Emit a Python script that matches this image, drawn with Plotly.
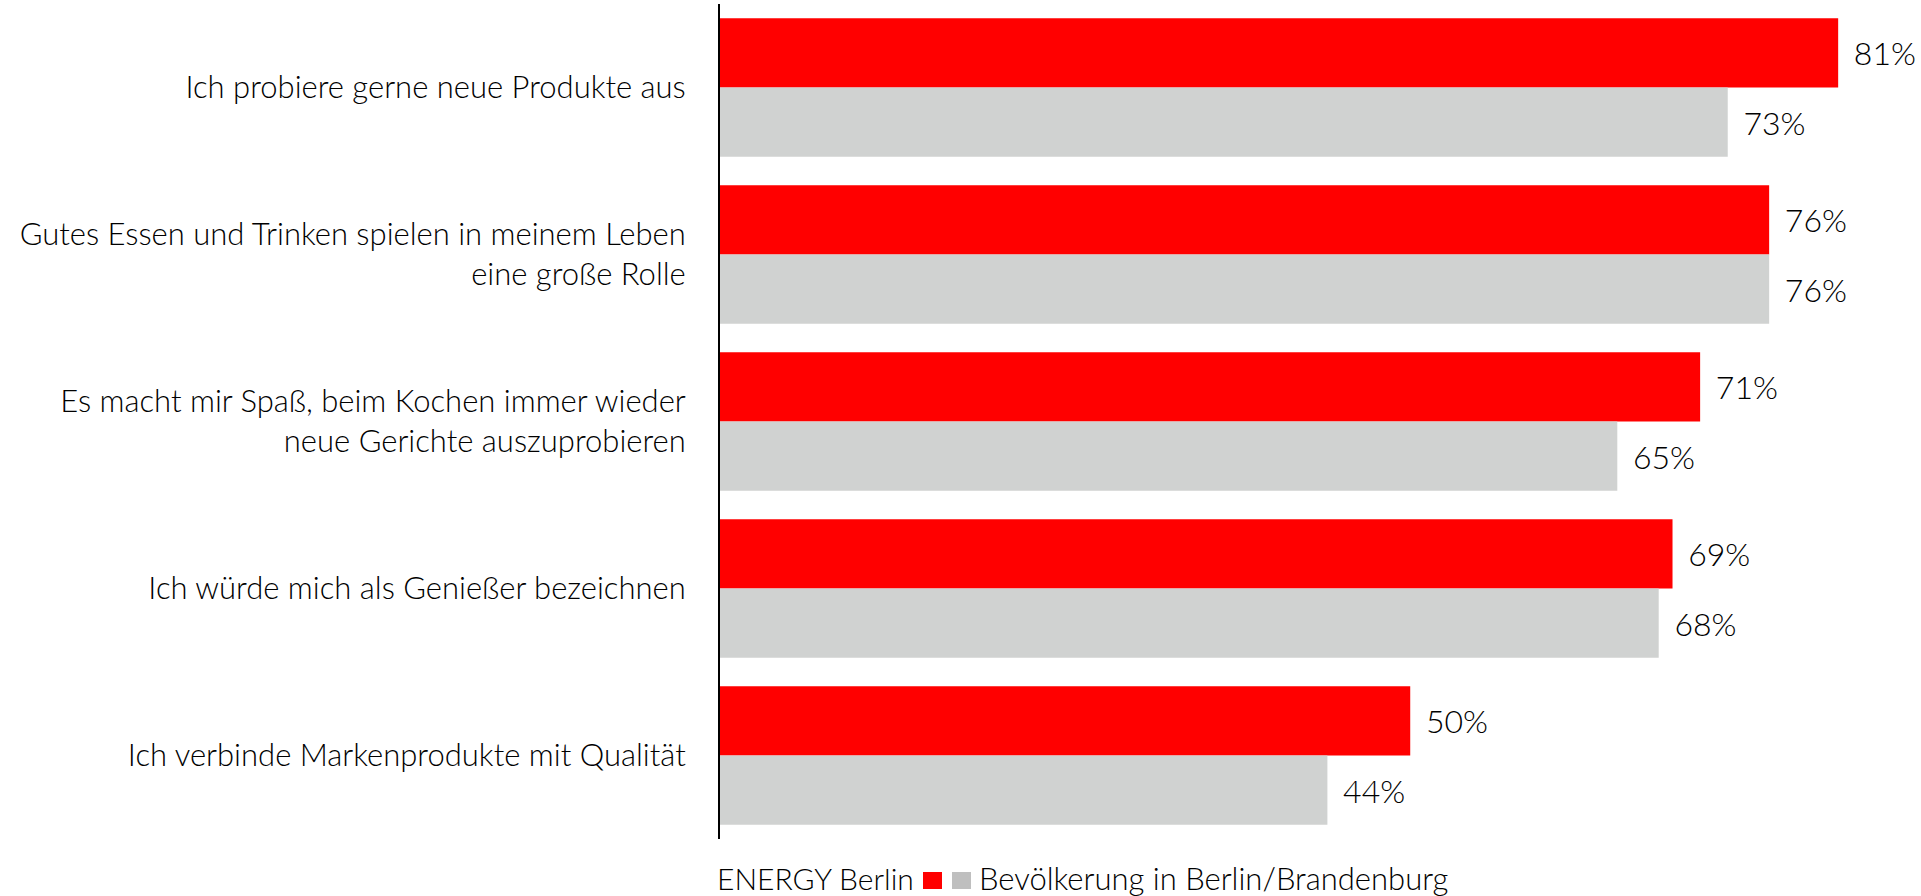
import plotly.graph_objects as go

categories = [
    "Ich probiere gerne neue Produkte aus",
    "Gutes Essen und Trinken spielen in meinem Leben<br>eine große Rolle",
    "Es macht mir Spaß, beim Kochen immer wieder<br>neue Gerichte auszuprobieren",
    "Ich würde mich als Genießer bezeichnen",
    "Ich verbinde Markenprodukte mit Qualität",
]
energy_berlin = [81, 76, 71, 69, 50]
bevoelkerung = [73, 76, 65, 68, 44]

font_family = "Lato"
red = "#FF0000"
grey = "#D0D2D1"
legend_grey = "#BFBFBF"

fig = go.Figure()
fig.add_trace(go.Bar(
    y=categories, x=energy_berlin, orientation="h", name="ENERGY Berlin",
    marker=dict(color=red, line=dict(width=0)),
    texttemplate="\u00a0\u2009%{x}%", textposition="outside",
    textfont=dict(size=32, color="#000000", family=font_family, weight=300),
    cliponaxis=False,
))
fig.add_trace(go.Bar(
    y=categories, x=bevoelkerung, orientation="h", name="Bevölkerung in Berlin/Brandenburg",
    marker=dict(color=grey, line=dict(width=0)),
    texttemplate="\u00a0\u2009%{x}%", textposition="outside",
    textfont=dict(size=32, color="#000000", family=font_family, weight=300),
    cliponaxis=False,
))

fig.update_layout(
    width=1921, height=896,
    margin=dict(l=720, r=0, t=4, b=57),
    barmode="group", bargap=0.17, bargroupgap=0,
    plot_bgcolor="white", paper_bgcolor="white",
    font=dict(family=font_family, size=31, color="#000000", weight=300),
    showlegend=False,
    xaxis=dict(range=[0, 87], visible=False, fixedrange=True),
    yaxis=dict(
        autorange="reversed", showline=True, linecolor="#000000", linewidth=2,
        showgrid=False, ticks="", ticklabelstandoff=26, fixedrange=True,
        tickfont=dict(size=31, family=font_family, weight=300),
    ),
)

# legend built by hand: label, red square, grey square, label
legend_y = -(878 - 839) / 835
fig.add_annotation(
    xref="paper", yref="paper", x=(916 - 720) / 1201, y=legend_y,
    xanchor="right", yanchor="middle", showarrow=False,
    text="ENERGY Berlin",
    font=dict(size=30, family=font_family, weight=300, color="#000000"),
)
fig.add_annotation(
    xref="paper", yref="paper", x=(977 - 720) / 1201, y=legend_y,
    xanchor="left", yanchor="middle", showarrow=False,
    text="Bevölkerung in Berlin/Brandenburg",
    font=dict(size=31, family=font_family, weight=300, color="#000000"),
)
for x0, x1, col in [(923, 942, red), (952, 971, legend_grey)]:
    fig.add_shape(
        type="rect", xref="paper", yref="paper",
        x0=(x0 - 720) / 1201, x1=(x1 - 720) / 1201,
        y0=-(889 - 839) / 835, y1=-(872 - 839) / 835,
        fillcolor=col, line=dict(width=0),
    )

fig.write_html(
    "out.html",
    config={"displayModeBar": False},
    post_script="document.body.style.margin='0';",
)
